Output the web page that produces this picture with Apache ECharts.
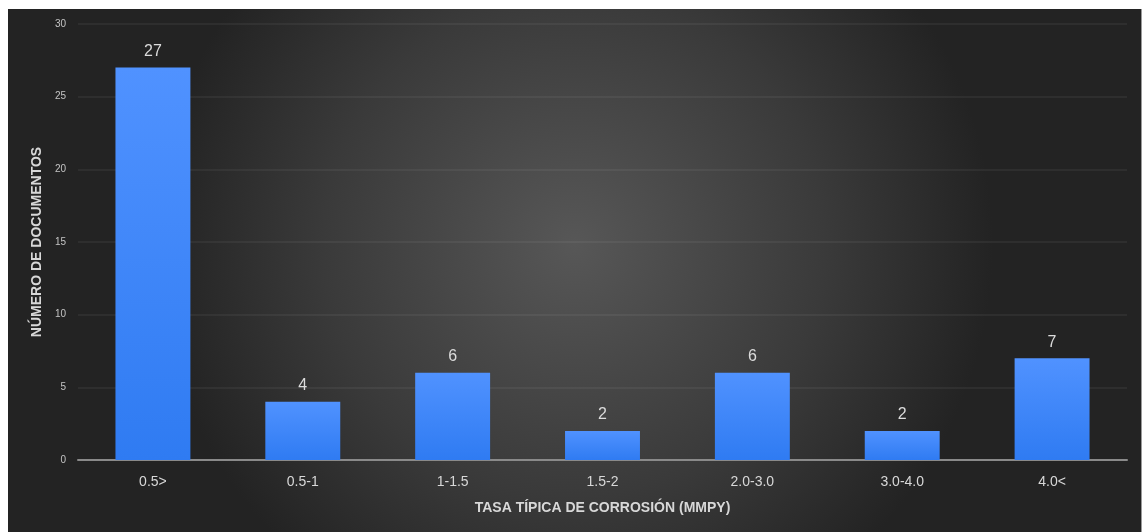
<!DOCTYPE html>
<html>
<head>
<meta charset="utf-8">
<script src="https://cdn.jsdelivr.net/npm/echarts@6/dist/echarts.min.js"></script>
<style>
  html, body { margin: 0; padding: 0; background: #ffffff; }
  #chartContainer {
    position: absolute;
    left: 8px;
    top: 9px;
    width: 1133px;
    height: 523px;
    border-right: 1px solid #9a9a9a;
  }
</style>
</head>
<body>
<div id="chartContainer"></div>
<script>
const categories = ["0.5>", "0.5-1", "1-1.5", "1.5-2", "2.0-3.0", "3.0-4.0", "4.0<"];
const documentCounts = [27, 4, 6, 2, 6, 2, 7];
const yTicks = [0, 5, 10, 15, 20, 25, 30];

const myChart = echarts.init(document.getElementById("chartContainer"));
const fontFamily = "Liberation Sans, Arial, sans-serif";

const option = {
  animation: false,
  backgroundColor: {
    type: "radial",
    x: 0.5,
    y: 0.45,
    r: 0.8,
    colorStops: [
      { offset: 0, color: "#575757" },
      { offset: 0.6, color: "#3a3a3a" },
      { offset: 1, color: "#232323" }
    ]
  },
  grid: {
    left: 70,
    right: 14,
    top: 15,
    bottom: 72
  },
  xAxis: {
    type: "category",
    data: categories,
    name: "TASA TÍPICA DE CORROSIÓN (MMPY)",
    nameLocation: "middle",
    nameGap: 41,
    nameTextStyle: {
      color: "#d8d8d8",
      fontSize: 14,
      fontWeight: "bold",
      fontFamily: fontFamily
    },
    axisLine: {
      show: true,
      lineStyle: { color: "#8a8a8a", width: 2 }
    },
    axisTick: { show: false },
    axisLabel: {
      color: "#d8d8d8",
      fontSize: 14,
      margin: 15,
      fontFamily: fontFamily
    }
  },
  yAxis: {
    type: "value",
    min: 0,
    max: 30,
    interval: 5,
    name: "NÚMERO DE DOCUMENTOS",
    nameLocation: "middle",
    nameGap: 28,
    nameTextStyle: {
      color: "#d8d8d8",
      fontSize: 14,
      fontWeight: "bold",
      fontFamily: fontFamily
    },
    axisLine: { show: false },
    axisTick: { show: false },
    axisLabel: {
      color: "#c4c4c4",
      fontSize: 10,
      margin: 12,
      fontFamily: fontFamily,
      formatter: function (v) {
        return yTicks.indexOf(v) >= 0 ? String(v) : "";
      }
    },
    splitLine: {
      show: true,
      lineStyle: { color: "rgba(255,255,255,0.05)", width: 2 }
    }
  },
  series: [
    {
      name: "Documentos",
      type: "bar",
      data: documentCounts,
      barWidth: "50%",
      itemStyle: {
        color: {
          type: "linear",
          x: 0, y: 0, x2: 0, y2: 1,
          colorStops: [
            { offset: 0, color: "#5092ff" },
            { offset: 1, color: "#2f7bf2" }
          ]
        }
      },
      label: {
        show: true,
        position: "top",
        distance: 8,
        color: "#dcdcdc",
        fontSize: 16,
        fontFamily: fontFamily
      }
    }
  ]
};

myChart.setOption(option);
</script>
</body>
</html>
